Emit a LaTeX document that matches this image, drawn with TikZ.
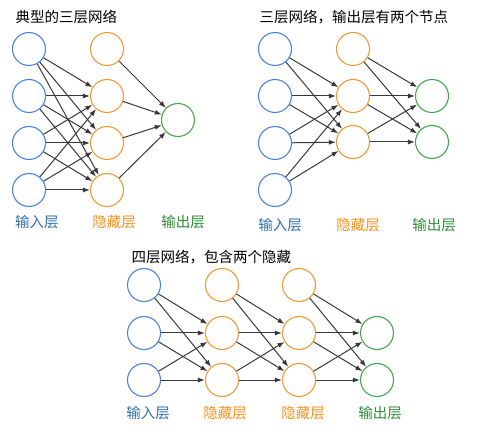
\documentclass[tikz,border=0pt]{standalone}
\usepackage{fontspec}
\setmainfont{Noto Sans CJK SC}
\usetikzlibrary{arrows.meta}

\begin{document}
\begin{tikzpicture}[x=1pt,y=-1pt]
    \definecolor{inblue}{HTML}{4A83E0}
    \definecolor{hidorange}{HTML}{EE9A3A}
    \definecolor{outgreen}{HTML}{44A84C}
    \definecolor{txtblue}{HTML}{2F70AE}
    \definecolor{txtorange}{HTML}{F5921E}
    \definecolor{txtgreen}{HTML}{2E8B35}
    \tikzset{unit/.style={circle,draw,line width=1.1pt,minimum size=33pt,inner sep=0pt},
      inp/.style={unit,draw=inblue}, hid/.style={unit,draw=hidorange}, outp/.style={unit,draw=outgreen},
      conn/.style={draw=black!78,line width=1pt,-{Latex[length=7pt,width=5pt]}},
      lbl/.style={font=\fontsize{14.5}{14.5}\selectfont}}
    \useasboundingbox (0,0) rectangle (487,435);
    % typical three layers
    \node[lbl,anchor=west] (t1) at (12,17) {典型的三层网络};
    \foreach \i/\y in {1/49,2/96,3/143,4/190} {
      \node[inp] (a\i) at (29,\y) {};
      \node[hid] (b\i) at (107,\y) {};
    }
    \node[outp] (c1) at (178,120) {};
    \foreach \i in {1,...,4} \foreach \j in {2,3,4} \draw[conn] (a\i) -- (b\j);
    \foreach \i in {1,...,4} \draw[conn] (b\i) -- (c1);
    \node[lbl,txtblue] (la) at (37,222) {输入层};
    \node[lbl,txtorange] (lb) at (114,222) {隐藏层};
    \node[lbl,txtgreen] (lc) at (183,222) {输出层};
    % two output nodes
    \node[lbl,anchor=west] (t2) at (256,17) {三层网络，输出层有两个节点};
    \foreach \i/\y in {1/49,2/96,3/143,4/190} \node[inp] (d\i) at (275,\y) {};
    \foreach \i/\y in {1/49,2/96,3/142} \node[hid] (e\i) at (353,\y) {};
    \foreach \i/\y in {1/96,2/142} \node[outp] (f\i) at (432,\y) {};
    \foreach \i in {1,...,4} \foreach \j in {2,3} \draw[conn] (d\i) -- (e\j);
    \foreach \i in {1,2,3} \foreach \j in {1,2} \draw[conn] (e\i) -- (f\j);
    \node[lbl,txtblue] (ld) at (280,225) {输入层};
    \node[lbl,txtorange] (le) at (358,225) {隐藏层};
    \node[lbl,txtgreen] (lf) at (434,225) {输出层};
    % four layers
    \node[lbl,anchor=west] (t3) at (128,257) {四层网络，包含两个隐藏};
    \foreach \i/\y in {1/285,2/333,3/380} {
      \node[inp] (g\i) at (144,\y) {};
      \node[hid] (h\i) at (222,\y) {};
      \node[hid] (k\i) at (299,\y) {};
    }
    \foreach \i/\y in {1/333,2/380} \node[outp] (m\i) at (377,\y) {};
    \foreach \i in {1,2,3} \foreach \j in {2,3} {
      \draw[conn] (g\i) -- (h\j);
      \draw[conn] (h\i) -- (k\j);
    }
    \foreach \i in {1,2,3} \foreach \j in {1,2} \draw[conn] (k\i) -- (m\j);
    \node[lbl,txtblue] (lg) at (148,413) {输入层};
    \node[lbl,txtorange] (lh) at (225,413) {隐藏层};
    \node[lbl,txtorange] (lk) at (303,413) {隐藏层};
    \node[lbl,txtgreen] (lm) at (380,413) {输出层};
\end{tikzpicture}
\end{document}
